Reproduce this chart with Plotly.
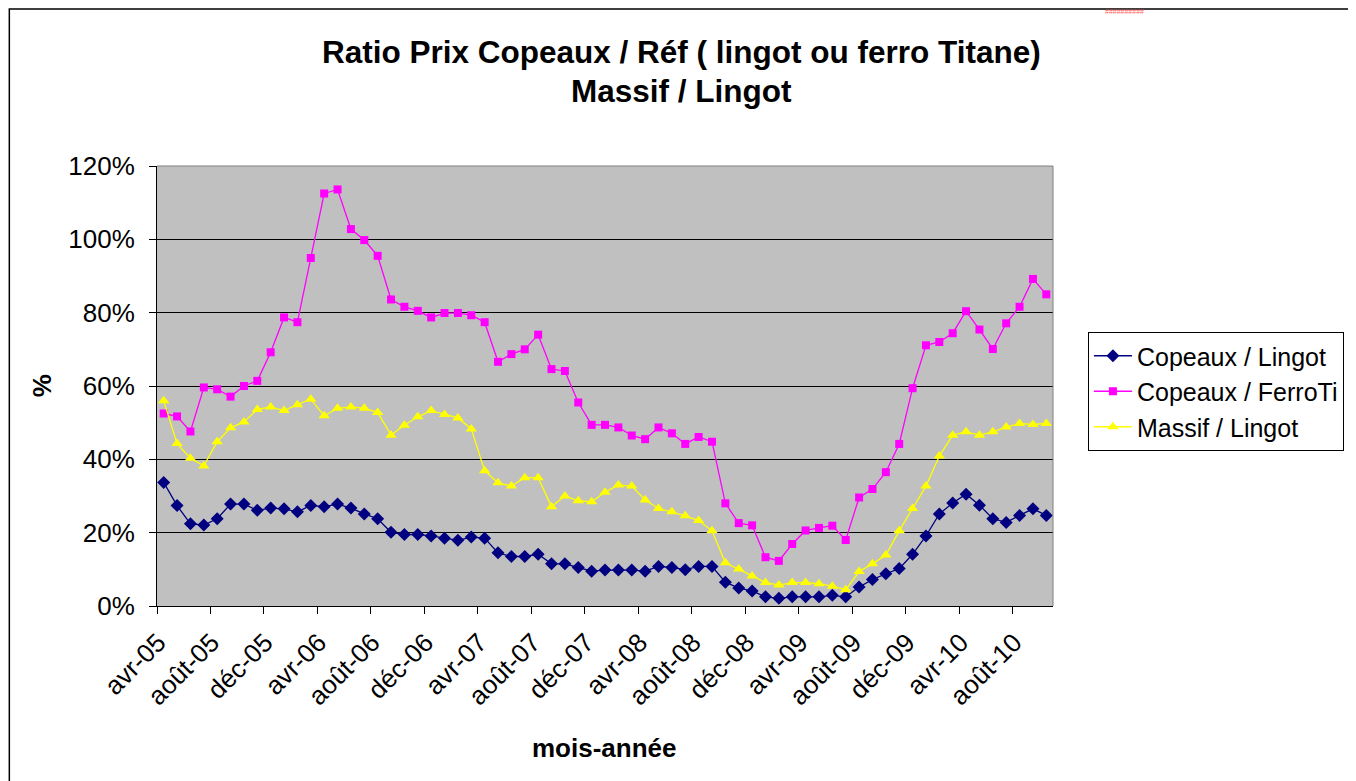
import plotly.graph_objects as go

months = [
    "avr-05", "mai-05", "juin-05", "juil-05", "août-05", "sept-05", "oct-05", "nov-05", "déc-05",
    "janv-06", "févr-06", "mars-06", "avr-06", "mai-06", "juin-06", "juil-06", "août-06", "sept-06", "oct-06", "nov-06", "déc-06",
    "janv-07", "févr-07", "mars-07", "avr-07", "mai-07", "juin-07", "juil-07", "août-07", "sept-07", "oct-07", "nov-07", "déc-07",
    "janv-08", "févr-08", "mars-08", "avr-08", "mai-08", "juin-08", "juil-08", "août-08", "sept-08", "oct-08", "nov-08", "déc-08",
    "janv-09", "févr-09", "mars-09", "avr-09", "mai-09", "juin-09", "juil-09", "août-09", "sept-09", "oct-09", "nov-09", "déc-09",
    "janv-10", "févr-10", "mars-10", "avr-10", "mai-10", "juin-10", "juil-10", "août-10", "sept-10", "oct-10",
]

copeaux_lingot = [
    33.7, 27.4, 22.4, 22.1, 23.8, 27.8, 27.8, 26.1, 26.7, 26.5, 25.7, 27.4, 27.1, 27.8, 26.7, 25.1,
    23.8, 20.1, 19.5, 19.5, 19.1, 18.5, 17.9, 18.8, 18.5, 14.5, 13.5, 13.5, 14.1, 11.5, 11.5, 10.5,
    9.5, 9.8, 9.8, 9.8, 9.5, 10.8, 10.5, 9.9, 10.8, 10.8, 6.5, 4.9, 4.1, 2.5, 2.1, 2.5, 2.5, 2.5,
    2.9, 2.5, 5.2, 7.2, 8.8, 10.2, 14.1, 19.1, 25.1, 28.1, 30.5, 27.5, 23.8, 22.8, 24.7, 26.5, 24.7,
]

copeaux_ferroti = [
    52.5, 51.7, 47.6, 59.6, 59.1, 57.1, 60.0, 61.4, 69.2, 78.7, 77.4, 94.9, 112.5, 113.6, 102.8, 99.8,
    95.5, 83.6, 81.6, 80.5, 78.7, 79.9, 79.9, 79.3, 77.4, 66.6, 68.7, 70.0, 74.0, 64.6, 64.1, 55.5,
    49.4, 49.4, 48.7, 46.5, 45.5, 48.7, 47.1, 44.2, 46.1, 44.8, 28.0, 22.6, 22.0, 13.3, 12.3, 16.9,
    20.6, 21.3, 21.9, 18.0, 29.6, 31.9, 36.5, 44.2, 59.4, 71.1, 72.0, 74.4, 80.4, 75.4, 70.1, 77.1,
    81.6, 89.2, 85.0,
]

massif_lingot = [
    56.0, 44.3, 40.3, 38.2, 44.8, 48.6, 50.2, 53.6, 54.3, 53.3, 54.9, 56.4, 51.9, 53.9, 54.3, 53.9,
    52.8, 46.6, 49.3, 51.6, 53.3, 52.2, 51.3, 48.3, 36.9, 33.6, 32.7, 35.0, 35.0, 27.1, 30.0, 28.7,
    28.4, 31.0, 33.0, 32.7, 28.9, 26.6, 25.7, 24.6, 23.3, 20.5, 11.8, 10.1, 8.2, 6.4, 5.7, 6.4, 6.4,
    6.1, 5.4, 4.4, 9.4, 11.5, 13.9, 20.5, 26.6, 32.7, 40.9, 46.6, 47.5, 46.6, 47.5, 48.8, 49.8, 49.5, 49.8,
]

series = [
    ("Copeaux / Lingot", copeaux_lingot, "#000080", "diamond", 10),
    ("Copeaux / FerroTi", copeaux_ferroti, "#FF00FF", "square", 8),
    ("Massif / Lingot", massif_lingot, "#FFFF00", "triangle-up", 10),
]

FONT = "Liberation Sans, Arial, sans-serif"
x_idx = list(range(len(months)))

fig = go.Figure()
for name, vals, color, symbol, size in series:
    fig.add_trace(go.Scatter(
        x=x_idx, y=[v / 100 for v in vals], name=name, mode="lines+markers",
        line=dict(color=color, width=1.3),
        marker=dict(symbol=symbol, size=size, color=color, line=dict(width=0)),
    ))

# page offset of the figure (browser body margin)
OFF = 8
FIG_W, FIG_H = 1356 - OFF, 781 - OFF
# plot area in page pixels: x 157..1055, y 166..606
L, R, T, B = 157, 1055, 166, 606
W, H = R - L, B - T


def px(xp):
    return (xp - L) / W


def py(yp):
    return (B - yp) / H


fig.update_layout(
    width=FIG_W, height=FIG_H,
    margin=dict(l=L - OFF, r=FIG_W - (R - OFF), t=T - OFF, b=FIG_H - (B - OFF), pad=0),
    paper_bgcolor="white", plot_bgcolor="#C0C0C0",
    font=dict(family=FONT, size=25, color="black"),
    showlegend=True,
    legend=dict(
        x=px(1090), y=py(332), xanchor="left", yanchor="top",
        bgcolor="white", bordercolor="black", borderwidth=1,
        font=dict(family=FONT, size=25, color="black"),
        itemwidth=38, tracegroupgap=0,
    ),
)

fig.update_xaxes(
    range=[-0.5, len(months) - 0.5],
    tickmode="array", tickvals=[i - 0.4 for i in x_idx[::4]], ticktext=months[::4],
    tickangle=-45, ticks="", showgrid=False, zeroline=False,
    showline=True, linecolor="black", linewidth=1,
    tickfont=dict(family=FONT, size=26, color="black"),
    ticklabelstandoff=10,
    minor=dict(ticks="outside", tickmode="array",
               tickvals=[i - 0.5 for i in x_idx[::4]],
               ticklen=7, tickcolor="black", tickwidth=1, showgrid=False),
)
fig.update_yaxes(
    range=[0, 1.2], dtick=0.2, tickformat=".0%",
    ticks="outside", ticklen=7, tickcolor="black", tickwidth=1,
    showgrid=True, gridcolor="black", gridwidth=1, zeroline=False,
    showline=True, linecolor="black", linewidth=1,
    tickfont=dict(family=FONT, size=26, color="black"),
    ticklabelstandoff=9,
)

# plot area top/right border (gray), outer chart border
fig.add_shape(type="line", xref="paper", yref="paper", x0=0, x1=1, y0=1, y1=1,
              line=dict(color="#808080", width=1))
fig.add_shape(type="line", xref="paper", yref="paper", x0=1, x1=1, y0=0, y1=1,
              line=dict(color="#808080", width=1))
fig.add_shape(type="rect", xref="paper", yref="paper",
              x0=px(OFF + 1), x1=px(1354), y0=py(800), y1=py(OFF + 1),
              line=dict(color="black", width=1.5), fillcolor="rgba(0,0,0,0)")

# titles
fig.add_annotation(text="<b>Ratio Prix Copeaux / Réf ( lingot ou ferro Titane)</b>",
                   xref="paper", yref="paper", x=px(683), y=py(52),
                   xanchor="center", yanchor="middle", showarrow=False,
                   font=dict(family=FONT, size=31.5, color="black"))
fig.add_annotation(text="<b>Massif / Lingot</b>",
                   xref="paper", yref="paper", x=px(683), y=py(91),
                   xanchor="center", yanchor="middle", showarrow=False,
                   font=dict(family=FONT, size=31.5, color="black"))
fig.add_annotation(text="<b>mois-année</b>", xref="paper", yref="paper",
                   x=px(605), y=py(748), xanchor="center", yanchor="middle",
                   showarrow=False, font=dict(family=FONT, size=26, color="black"))
fig.add_annotation(text="<b>%</b>", xref="paper", yref="paper",
                   x=px(42), y=py(386), xanchor="center", yanchor="middle",
                   textangle=-90, showarrow=False,
                   font=dict(family=FONT, size=26, color="black"))
fig.add_annotation(text="##########", xref="paper", yref="paper",
                   x=px(1127), y=py(OFF + 4), xanchor="center", yanchor="middle",
                   showarrow=False, font=dict(family=FONT, size=7, color="#FF6060"))

fig.write_html("out.html")
